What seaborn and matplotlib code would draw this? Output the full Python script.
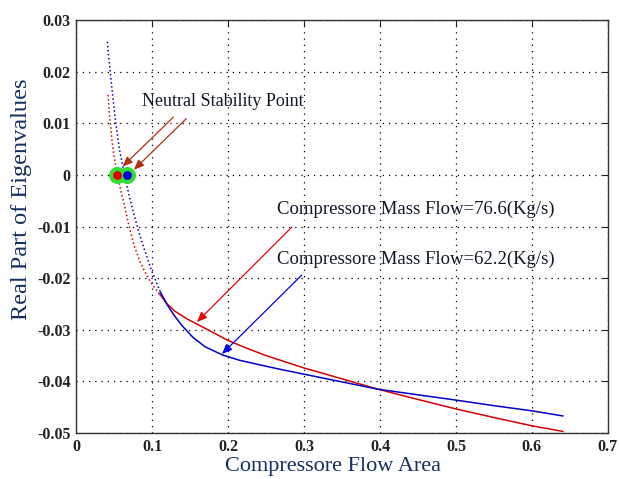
import numpy as np
import pandas as pd
import matplotlib
matplotlib.use("Agg")
import matplotlib.pyplot as plt
import seaborn as sns

# ------------------------------------------
# data
# ------------------------------------------
# 76.6 kg/s (red) - dotted part then solid part
red_dot_x = [0.042, 0.044, 0.047, 0.050, 0.054, 0.058, 0.063, 0.069, 0.076, 0.084, 0.092, 0.100, 0.110]
red_dot_y = [0.0155, 0.0115, 0.0070, 0.0035, 0.0003, -0.0025, -0.0055, -0.0095, -0.0135, -0.0168, -0.0192, -0.0212, -0.0231]
red_x = [0.110, 0.120, 0.130, 0.145, 0.159, 0.175, 0.199, 0.225, 0.250, 0.275, 0.300,
         0.350, 0.397, 0.450, 0.499, 0.550, 0.600, 0.641]
red_y = [-0.0231, -0.0250, -0.0264, -0.0278, -0.0289, -0.0301, -0.0320, -0.0336, -0.0350, -0.0362, -0.0374,
         -0.0395, -0.0415, -0.0435, -0.0453, -0.0470, -0.0486, -0.0497]

# 62.2 kg/s (blue)
blue_dot_x = [0.041, 0.044, 0.048, 0.052, 0.057, 0.063, 0.069, 0.075, 0.082, 0.090, 0.098, 0.105, 0.111]
blue_dot_y = [0.0258, 0.0212, 0.0155, 0.0103, 0.0050, 0.0005, -0.0035, -0.0070, -0.0108, -0.0145, -0.0180, -0.0206, -0.0227]
blue_x = [0.111, 0.120, 0.130, 0.140, 0.154, 0.170, 0.193, 0.215, 0.242, 0.270, 0.300,
          0.350, 0.397, 0.450, 0.499, 0.550, 0.600, 0.641]
blue_y = [-0.0227, -0.0252, -0.0274, -0.0293, -0.0315, -0.0333, -0.0349, -0.0359, -0.0368, -0.0377, -0.0386,
          -0.0401, -0.0415, -0.0426, -0.0436, -0.0447, -0.0457, -0.0467]

# neutral stability points
stab_x = [0.054, 0.067]
stab_y = [0.0, 0.0]
stab_colors = ["#e00000", "#0000e0"]

x_ticks = [0, 0.1, 0.2, 0.3, 0.4, 0.5, 0.6, 0.7]
y_ticks = [0.03, 0.02, 0.01, 0, -0.01, -0.02, -0.03, -0.04, -0.05]
x_tick_labels = ["0", "0.1", "0.2", "0.3", "0.4", "0.5", "0.6", "0.7"]
y_tick_labels = ["0.03", "0.02", "0.01", "0", "-0.01", "-0.02", "-0.03", "-0.04", "-0.05"]

RED = "#d40000"
BLUE = "#0000c8"
LABEL_COL = "#14305e"
SERIF = ["Liberation Serif", "DejaVu Serif"]

# ------------------------------------------
# figure
# ------------------------------------------
sns.set_style("white")
plt.rcParams["font.family"] = SERIF

fig = plt.figure(figsize=(6.19, 4.79), dpi=100)
ax = fig.add_axes([0.123, 0.096, 0.859, 0.862])

segs = [
    (red_dot_x, red_dot_y, RED, ":"),
    (blue_dot_x, blue_dot_y, BLUE, ":"),
    (red_x, red_y, RED, "-"),
    (blue_x, blue_y, BLUE, "-"),
]
for xs, ys, col, ls in segs:
    df = pd.DataFrame({"x": xs, "y": ys})
    sns.lineplot(data=df, x="x", y="y", ax=ax, color=col, linestyle=ls,
                 linewidth=1.1, sort=False, estimator=None)

# green halo markers
for sx, sy, c in zip(stab_x, stab_y, stab_colors):
    ax.scatter([sx], [sy], s=150, color="#33dd33", zorder=5, linewidths=0)
    ax.scatter([sx], [sy], s=40, color=c, zorder=6, linewidths=0)

# ------------------------------------------
# annotations
# ------------------------------------------
ax.text(0.087, 0.0143, "Neutral Stability Point", fontsize=13, color="#101828",
        va="center", ha="left")
ax.text(0.264, -0.0066, "Compressore Mass Flow=76.6(Kg/s)", fontsize=13.5,
        color="#101828", va="center", ha="left")
ax.text(0.264, -0.0163, "Compressore Mass Flow=62.2(Kg/s)", fontsize=13.5,
        color="#101828", va="center", ha="left")

def arrow(tail, head, line_col, head_col):
    ax.annotate("", xy=head, xytext=tail,
                arrowprops=dict(arrowstyle="-|>,head_length=0.6,head_width=0.25",
                                color=line_col, fc=head_col, ec=head_col,
                                lw=0.9, shrinkA=0, shrinkB=0))

arrow((0.128, 0.0112), (0.061, 0.0016), "#8a4a30", "#b03010")
arrow((0.145, 0.0109), (0.076, 0.0010), "#8a4a30", "#b03010")
arrow((0.284, -0.0101), (0.159, -0.0285), "#c03838", "#ee0000")
arrow((0.297, -0.0194), (0.192, -0.0347), "#3030b0", "#0000ee")

# ------------------------------------------
# axes styling
# ------------------------------------------
ax.set_xlim(0, 0.7)
ax.set_ylim(-0.05, 0.03)
ax.set_xticks(x_ticks)
ax.set_xticklabels(x_tick_labels)
ax.set_yticks(y_ticks)
ax.set_yticklabels(y_tick_labels)
for lab in ax.get_xticklabels() + ax.get_yticklabels():
    lab.set_fontweight("bold")
    lab.set_fontsize(11.5)
ax.tick_params(direction="in", length=4, width=0.8, top=True, right=True,
               colors="#222222", pad=4)
ax.grid(True, color="black", linestyle=(0, (1, 4)), linewidth=0.9)
for sp in ax.spines.values():
    sp.set_color("#333333")
    sp.set_linewidth(1.0)

ax.set_xlabel("Compressore Flow Area", fontsize=16, color=LABEL_COL)
ax.set_ylabel("Real Part of Eigenvalues", fontsize=17.5, color=LABEL_COL)
ax.xaxis.set_label_coords(0.483, -0.058)
ax.yaxis.set_label_coords(-0.083, 0.565)

fig.savefig("out.png", dpi=100)
plt.close(fig)
